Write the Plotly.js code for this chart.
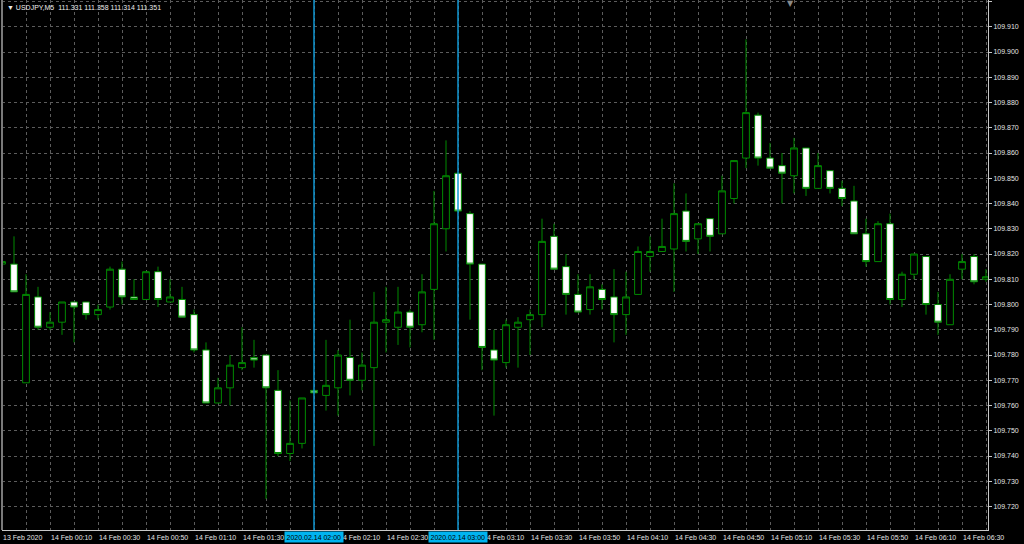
<!DOCTYPE html>
<html>
<head>
<meta charset="utf-8">
<script src="https://cdn.plot.ly/plotly-3.0.1.min.js"></script>
<style>
html,body{margin:0;padding:0;background:#000;}
#chart{width:1024px;height:544px;}
</style>
</head>
<body>
<div id="chart"></div>
<script>
// ---- Data (USDJPY, M5) ----
const times = [
 '2020-02-13 23:50','2020-02-13 23:55',
 '2020-02-14 00:00','2020-02-14 00:05','2020-02-14 00:10','2020-02-14 00:15','2020-02-14 00:20','2020-02-14 00:25',
 '2020-02-14 00:30','2020-02-14 00:35','2020-02-14 00:40','2020-02-14 00:45','2020-02-14 00:50','2020-02-14 00:55',
 '2020-02-14 01:00','2020-02-14 01:05','2020-02-14 01:10','2020-02-14 01:15','2020-02-14 01:20','2020-02-14 01:25',
 '2020-02-14 01:30','2020-02-14 01:35','2020-02-14 01:40','2020-02-14 01:45','2020-02-14 01:50','2020-02-14 01:55',
 '2020-02-14 02:00','2020-02-14 02:05','2020-02-14 02:10','2020-02-14 02:15','2020-02-14 02:20','2020-02-14 02:25',
 '2020-02-14 02:30','2020-02-14 02:35','2020-02-14 02:40','2020-02-14 02:45','2020-02-14 02:50','2020-02-14 02:55',
 '2020-02-14 03:00','2020-02-14 03:05','2020-02-14 03:10','2020-02-14 03:15','2020-02-14 03:20','2020-02-14 03:25',
 '2020-02-14 03:30','2020-02-14 03:35','2020-02-14 03:40','2020-02-14 03:45','2020-02-14 03:50','2020-02-14 03:55',
 '2020-02-14 04:00','2020-02-14 04:05','2020-02-14 04:10','2020-02-14 04:15','2020-02-14 04:20','2020-02-14 04:25',
 '2020-02-14 04:30','2020-02-14 04:35','2020-02-14 04:40','2020-02-14 04:45','2020-02-14 04:50','2020-02-14 04:55',
 '2020-02-14 05:00','2020-02-14 05:05','2020-02-14 05:10','2020-02-14 05:15','2020-02-14 05:20','2020-02-14 05:25',
 '2020-02-14 05:30','2020-02-14 05:35','2020-02-14 05:40','2020-02-14 05:45','2020-02-14 05:50','2020-02-14 05:55',
 '2020-02-14 06:00','2020-02-14 06:05','2020-02-14 06:10','2020-02-14 06:15','2020-02-14 06:20','2020-02-14 06:25',
 '2020-02-14 06:30','2020-02-14 06:35','2020-02-14 06:40'
];
const opens = [
 109.816,109.816,109.769,109.803,109.791,109.793,109.801,109.801,109.796,109.799,
 109.814,109.803,109.802,109.813,109.801,109.802,109.796,109.782,109.761,109.767,
 109.775,109.779,109.780,109.766,109.741,109.745,109.766,109.764,109.767,109.779,
 109.770,109.775,109.793,109.791,109.797,109.792,109.806,109.830,109.852,109.836,
 109.816,109.782,109.777,109.791,109.794,109.796,109.827,109.815,109.804,109.798,
 109.806,109.803,109.796,109.804,109.819,109.821,109.822,109.837,109.826,109.834,
 109.828,109.842,109.858,109.875,109.858,109.855,109.851,109.862,109.846,109.853,
 109.846,109.841,109.828,109.817,109.832,109.802,109.812,109.819,109.800,109.792,
 109.814,109.819,109.810
];
const highs = [
 109.819,109.827,109.812,109.807,109.797,109.801,109.801,109.801,109.800,109.815,
 109.817,109.810,109.813,109.815,109.810,109.807,109.798,109.785,109.771,109.780,
 109.791,109.786,109.780,109.774,109.762,109.763,109.766,109.786,109.782,109.794,
 109.781,109.805,109.807,109.807,109.798,109.812,109.845,109.865,109.852,109.837,
 109.816,109.790,109.794,109.795,109.798,109.834,109.832,109.820,109.812,109.812,
 109.808,109.814,109.813,109.823,109.827,109.834,109.848,109.844,109.832,109.834,
 109.851,109.857,109.905,109.876,109.864,109.860,109.866,109.862,109.860,109.853,
 109.849,109.847,109.834,109.833,109.836,109.813,109.820,109.819,109.805,109.812,
 109.820,109.820,109.814
];
const lows = [
 109.814,109.805,109.769,109.790,109.790,109.788,109.785,109.794,109.794,109.798,
 109.800,109.802,109.802,109.799,109.801,109.795,109.781,109.761,109.761,109.760,
 109.774,109.775,109.723,109.740,109.738,109.743,109.765,109.758,109.756,109.764,
 109.766,109.744,109.781,109.784,109.783,109.789,109.786,109.821,109.837,109.794,
 109.774,109.756,109.775,109.775,109.780,109.791,109.814,109.796,109.797,109.796,
 109.798,109.785,109.788,109.804,109.813,109.821,109.805,109.821,109.820,109.821,
 109.828,109.840,109.854,109.855,109.854,109.840,109.844,109.843,109.846,109.844,
 109.839,109.828,109.815,109.817,109.800,109.799,109.810,109.796,109.788,109.792,
 109.810,109.808,109.809
];
const closes = [
 109.817,109.805,109.804,109.791,109.793,109.801,109.799,109.796,109.798,109.814,
 109.803,109.802,109.813,109.802,109.803,109.795,109.782,109.761,109.767,109.776,
 109.777,109.778,109.767,109.741,109.745,109.763,109.765,109.768,109.780,109.770,
 109.776,109.793,109.794,109.797,109.791,109.805,109.832,109.851,109.837,109.816,
 109.783,109.778,109.792,109.793,109.796,109.825,109.814,109.804,109.797,109.807,
 109.802,109.796,109.803,109.821,109.821,109.823,109.836,109.825,109.832,109.827,
 109.845,109.857,109.876,109.858,109.854,109.852,109.862,109.846,109.855,109.846,
 109.842,109.828,109.817,109.832,109.802,109.812,109.820,109.800,109.793,109.810,
 109.817,109.809,109.811
];

// time-axis labels (left aligned at their time)
const xLabelTimes = [
 '2020-02-13 23:50','2020-02-14 00:10','2020-02-14 00:30','2020-02-14 00:50','2020-02-14 01:10',
 '2020-02-14 01:30','2020-02-14 02:10','2020-02-14 02:30','2020-02-14 03:10','2020-02-14 03:30',
 '2020-02-14 03:50','2020-02-14 04:10','2020-02-14 04:30','2020-02-14 04:50','2020-02-14 05:10',
 '2020-02-14 05:30','2020-02-14 05:50','2020-02-14 06:10','2020-02-14 06:30'
];
const xLabelTexts = [
 '13 Feb 2020','14 Feb 00:10','14 Feb 00:30','14 Feb 00:50','14 Feb 01:10',
 '14 Feb 01:30','14 Feb 02:10','14 Feb 02:30','14 Feb 03:10','14 Feb 03:30',
 '14 Feb 03:50','14 Feb 04:10','14 Feb 04:30','14 Feb 04:50','14 Feb 05:10',
 '14 Feb 05:30','14 Feb 05:50','14 Feb 06:10','14 Feb 06:30'
];

// vertical line markers
const vlineTimes = ['2020-02-14 02:00','2020-02-14 03:00'];
const vlineLabels = ['2020.02.14 02:00','2020.02.14 03:00'];

const headerText = '\u25BC USDJPY,M5  111.331 111.358 111.314 111.351';

// ---- Styles ----
const FONT = 'Liberation Sans, Arial, sans-serif';
const candleLine = '#008a00';
const vlineColor = '#0f96d2';
const labelBg = '#00b4f0';
const textColor = '#e4e4e4';
const gridColor = '#5c5c5c';
const FS = 7;

const trace = {
  type: 'candlestick',
  x: times, open: opens, high: highs, low: lows, close: closes,
  increasing: {line: {color: candleLine, width: 1}, fillcolor: '#000000'},
  decreasing: {line: {color: candleLine, width: 1}, fillcolor: '#ffffff'},
  whiskerwidth: 0,
  hoverinfo: 'skip',
  showlegend: false
};

const annotations = [];
xLabelTimes.forEach((t, i) => {
  annotations.push({
    x: t, xref: 'x', y: 0, yref: 'paper', xanchor: 'left', yanchor: 'top',
    text: xLabelTexts[i], showarrow: false, yshift: -2, xshift: -1,
    font: {family: FONT, size: FS, color: textColor}
  });
});
vlineTimes.forEach((t, i) => {
  annotations.push({
    x: t, xref: 'x', y: 0, yref: 'paper', xanchor: 'center', yanchor: 'top',
    text: vlineLabels[i], showarrow: false, yshift: -1,
    bgcolor: labelBg, borderpad: 1.5,
    font: {family: FONT, size: FS, color: '#000000'}
  });
});
annotations.push({
  x: 0, xref: 'paper', y: 1, yref: 'paper', xanchor: 'left', yanchor: 'top',
  xshift: 3, yshift: -2, text: headerText, showarrow: false,
  font: {family: FONT, size: FS, color: '#ececec'}
});
annotations.push({
  x: 0.7995, xref: 'paper', y: 1, yref: 'paper', xanchor: 'center', yanchor: 'top',
  yshift: 3, text: '\u25BC', showarrow: false,
  font: {family: 'DejaVu Sans', size: 8, color: '#8a8a8a'}
});

const shapes = vlineTimes.map(t => ({
  type: 'line', xref: 'x', x0: t, x1: t, yref: 'paper', y0: 0, y1: 1,
  line: {color: vlineColor, width: 1.5}, layer: 'above'
}));
shapes.push({
  type: 'line', xref: 'paper', x0: 0, x1: 0, yref: 'paper', y0: 0, y1: 1,
  line: {color: '#7a7a7a', width: 2}
});

const layout = {
  width: 1024, height: 544,
  margin: {l: 2, r: 36, t: 0, b: 14, pad: 0},
  paper_bgcolor: '#000000', plot_bgcolor: '#000000',
  showlegend: false,
  hovermode: false,
  boxgap: 0.2,
  font: {family: FONT, size: FS, color: textColor},
  xaxis: {
    type: 'date',
    range: ['2020-02-13 23:50:00', '2020-02-14 06:40:50'],
    rangeslider: {visible: false},
    showgrid: true, gridcolor: gridColor, griddash: 'dot', gridwidth: 1,
    tick0: '2020-02-14 00:00', dtick: 600000,
    showticklabels: false, ticks: '',
    showline: true, linecolor: '#c8c8c8', linewidth: 1,
    zeroline: false, fixedrange: true
  },
  yaxis: {
    side: 'right',
    range: [109.7107, 109.9206],
    tick0: 109.72, dtick: 0.01, tickformat: '.3f',
    showgrid: true, gridcolor: gridColor, griddash: 'dot', gridwidth: 1,
    ticks: 'outside', ticklen: 3, tickcolor: '#c8c8c8',
    showline: true, linecolor: '#c8c8c8', linewidth: 1,
    tickfont: {family: FONT, size: FS, color: textColor},
    zeroline: false, fixedrange: true
  },
  annotations: annotations,
  shapes: shapes
};

Plotly.newPlot('chart', [trace], layout, {displayModeBar: false, staticPlot: true});
</script>
</body>
</html>
